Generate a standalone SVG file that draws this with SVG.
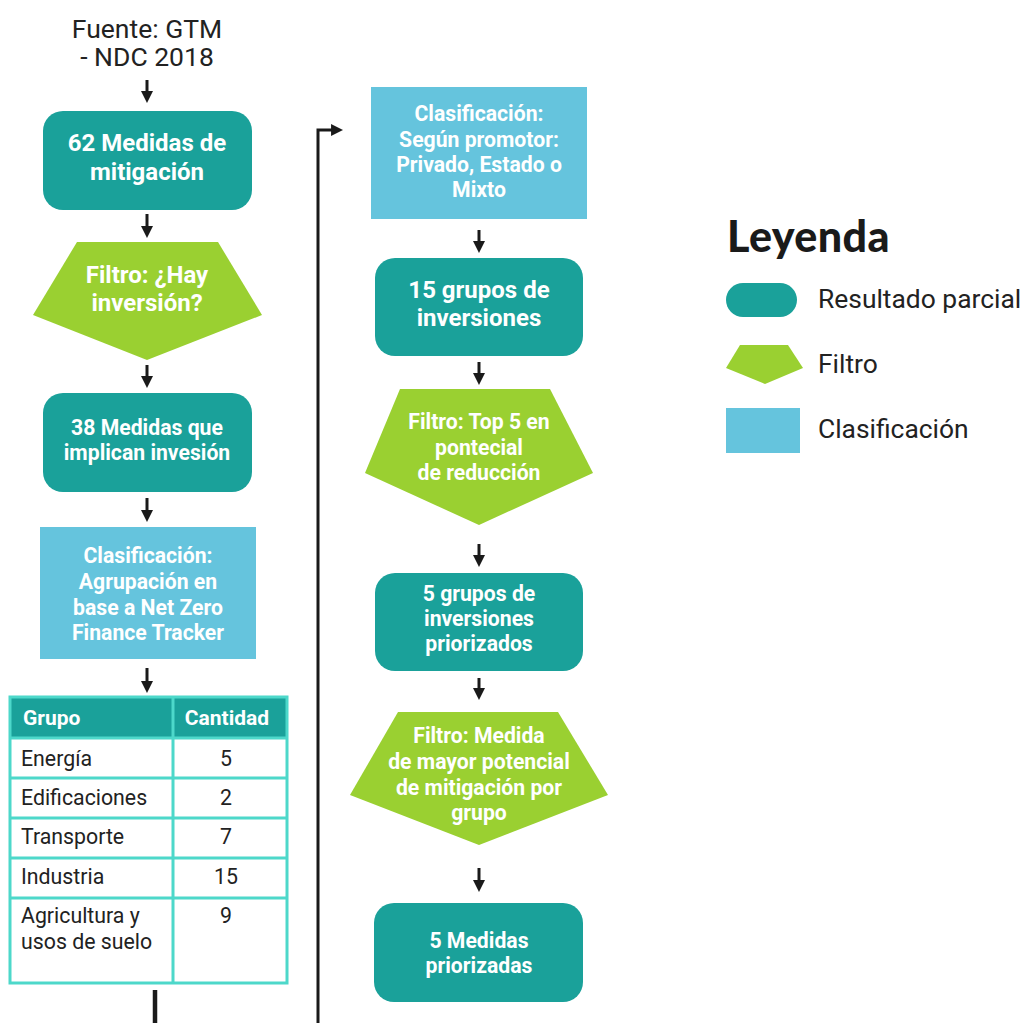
<svg xmlns="http://www.w3.org/2000/svg" width="1026" height="1023" viewBox="0 0 1026 1023">
<style>
.res{fill:#1aa19a}
.fil{fill:#9ad031}
.cla{fill:#65c4dd}
.wt{fill:#ffffff;font-family:Roboto,"Liberation Sans",sans-serif;font-weight:bold;text-anchor:middle}
.f21{font-size:24px}
.f19{font-size:21.2px}
.dk{fill:#222222;font-family:Roboto,"Liberation Sans",sans-serif}
.conn{stroke:#1a1a1a;stroke-width:3;fill:none}
.tb{stroke:#4dd8ca;stroke-width:3;fill:none}
.td{font-size:21.3px}
.lg{font-size:26.4px}
</style>
<defs>
<marker id="ah" viewBox="0 0 10 10" refX="3.3" refY="5" markerWidth="12" markerHeight="12" markerUnits="userSpaceOnUse" orient="auto">
<path d="M0,0 L10,5 L0,10 z" fill="#1a1a1a"/>
</marker>
</defs>
<rect width="1026" height="1023" fill="#ffffff"/>

<g id="source">
<text class="dk" x="147" y="38" font-size="26.5" text-anchor="middle">Fuente: GTM</text>
<text class="dk" x="147" y="66" font-size="26.5" text-anchor="middle">- NDC 2018</text>
</g>

<g id="connectors">
<line class="conn" x1="147" y1="80" x2="147" y2="95" marker-end="url(#ah)"/>
<line class="conn" x1="147" y1="214" x2="147" y2="230" marker-end="url(#ah)"/>
<line class="conn" x1="147" y1="365" x2="147" y2="380" marker-end="url(#ah)"/>
<line class="conn" x1="147" y1="498" x2="147" y2="514" marker-end="url(#ah)"/>
<line class="conn" x1="147" y1="668" x2="147" y2="685" marker-end="url(#ah)"/>
<line x1="155" y1="990" x2="155" y2="1023" stroke="#1a1a1a" stroke-width="4.5"/>
<path class="conn" d="M318,1023 V130 H335" marker-end="url(#ah)"/>
<line class="conn" x1="479" y1="230" x2="479" y2="245" marker-end="url(#ah)"/>
<line class="conn" x1="479" y1="362" x2="479" y2="377" marker-end="url(#ah)"/>
<line class="conn" x1="479" y1="544" x2="479" y2="559" marker-end="url(#ah)"/>
<line class="conn" x1="479" y1="678" x2="479" y2="692" marker-end="url(#ah)"/>
<line class="conn" x1="479" y1="868" x2="479" y2="884" marker-end="url(#ah)"/>
</g>

<g id="n1">
<rect class="res" x="43" y="111" width="209" height="99" rx="20"/>
<text class="wt f21" x="147" y="151">62 Medidas de</text>
<text class="wt f21" x="147" y="180">mitigación</text>
</g>

<g id="f1">
<polygon class="fil" points="77,242 218,242 262,315 147,360 33,315"/>
<text class="wt f21" x="147" y="283">Filtro: ¿Hay</text>
<text class="wt f21" x="147" y="311">inversión?</text>
</g>

<g id="n2">
<rect class="res" x="43" y="393" width="209" height="99" rx="20"/>
<text class="wt f19" x="147" y="435">38 Medidas que</text>
<text class="wt f19" x="147" y="460">implican invesión</text>
</g>

<g id="c1">
<rect class="cla" x="40" y="527" width="216" height="132"/>
<text class="wt f19" x="148" y="563">Clasificación:</text>
<text class="wt f19" x="148" y="589">Agrupación en</text>
<text class="wt f19" x="148" y="615">base a Net Zero</text>
<text class="wt f19" x="148" y="640">Finance Tracker</text>
</g>

<g id="table">
<rect x="10" y="697" width="277" height="41" fill="#1aa19a"/>
<rect class="tb" x="10" y="697" width="277" height="286"/>
<line class="tb" x1="173" y1="697" x2="173" y2="983"/>
<line class="tb" x1="10" y1="738" x2="287" y2="738"/>
<line class="tb" x1="10" y1="778" x2="287" y2="778"/>
<line class="tb" x1="10" y1="818" x2="287" y2="818"/>
<line class="tb" x1="10" y1="858" x2="287" y2="858"/>
<line class="tb" x1="10" y1="898" x2="287" y2="898"/>
<text class="wt" x="23" y="725" font-size="21" style="text-anchor:start">Grupo</text>
<text class="wt" x="227" y="725" font-size="21">Cantidad</text>
<text class="dk td" x="21" y="766">Energía</text>
<text class="dk td" x="226" y="766" text-anchor="middle">5</text>
<text class="dk td" x="21" y="805">Edificaciones</text>
<text class="dk td" x="226" y="805" text-anchor="middle">2</text>
<text class="dk td" x="21" y="844">Transporte</text>
<text class="dk td" x="226" y="844" text-anchor="middle">7</text>
<text class="dk td" x="21" y="884">Industria</text>
<text class="dk td" x="226" y="884" text-anchor="middle">15</text>
<text class="dk td" x="21" y="923">Agricultura y</text>
<text class="dk td" x="21" y="949">usos de suelo</text>
<text class="dk td" x="226" y="923" text-anchor="middle">9</text>
</g>

<g id="c2">
<rect class="cla" x="371" y="87" width="216" height="132"/>
<text class="wt f19" x="479" y="121">Clasificación:</text>
<text class="wt f19" x="479" y="147">Según promotor:</text>
<text class="wt f19" x="479" y="172">Privado, Estado o</text>
<text class="wt f19" x="479" y="197">Mixto</text>
</g>

<g id="n3">
<rect class="res" x="375" y="258" width="208" height="98" rx="20"/>
<text class="wt f21" x="479" y="298">15 grupos de</text>
<text class="wt f21" x="479" y="326">inversiones</text>
</g>

<g id="f2">
<polygon class="fil" points="400,389 550,389 593,473 479,525 365,473"/>
<text class="wt f19" x="479" y="429">Filtro: Top 5 en</text>
<text class="wt f19" x="479" y="455">pontecial</text>
<text class="wt f19" x="479" y="480">de reducción</text>
</g>

<g id="n4">
<rect class="res" x="375" y="573" width="208" height="98" rx="20"/>
<text class="wt f19" x="479" y="601">5 grupos de</text>
<text class="wt f19" x="479" y="626">inversiones</text>
<text class="wt f19" x="479" y="651">priorizados</text>
</g>

<g id="f3">
<polygon class="fil" points="398,712 558,712 608,795 479,845 350,795"/>
<text class="wt f19" x="479" y="743">Filtro: Medida</text>
<text class="wt f19" x="479" y="769">de mayor potencial</text>
<text class="wt f19" x="479" y="795">de mitigación por</text>
<text class="wt f19" x="479" y="820">grupo</text>
</g>

<g id="n5">
<rect class="res" x="374" y="903" width="209" height="99" rx="20"/>
<text class="wt f19" x="479" y="948">5 Medidas</text>
<text class="wt f19" x="479" y="973">priorizadas</text>
</g>

<g id="legend">
<text x="727" y="252" font-family="Lato,'Liberation Sans',sans-serif" font-weight="900" font-size="43" letter-spacing="0.4" fill="#1a1a1a">Leyenda</text>
<rect class="res" x="726" y="283" width="71" height="34" rx="17"/>
<text class="dk lg" x="818" y="308">Resultado parcial</text>
<polygon class="fil" points="740,345 788,345 803,368 765,384 726,368"/>
<text class="dk lg" x="818" y="373">Filtro</text>
<rect class="cla" x="726" y="408" width="74" height="45"/>
<text class="dk lg" x="818" y="438">Clasificación</text>
</g>
</svg>
